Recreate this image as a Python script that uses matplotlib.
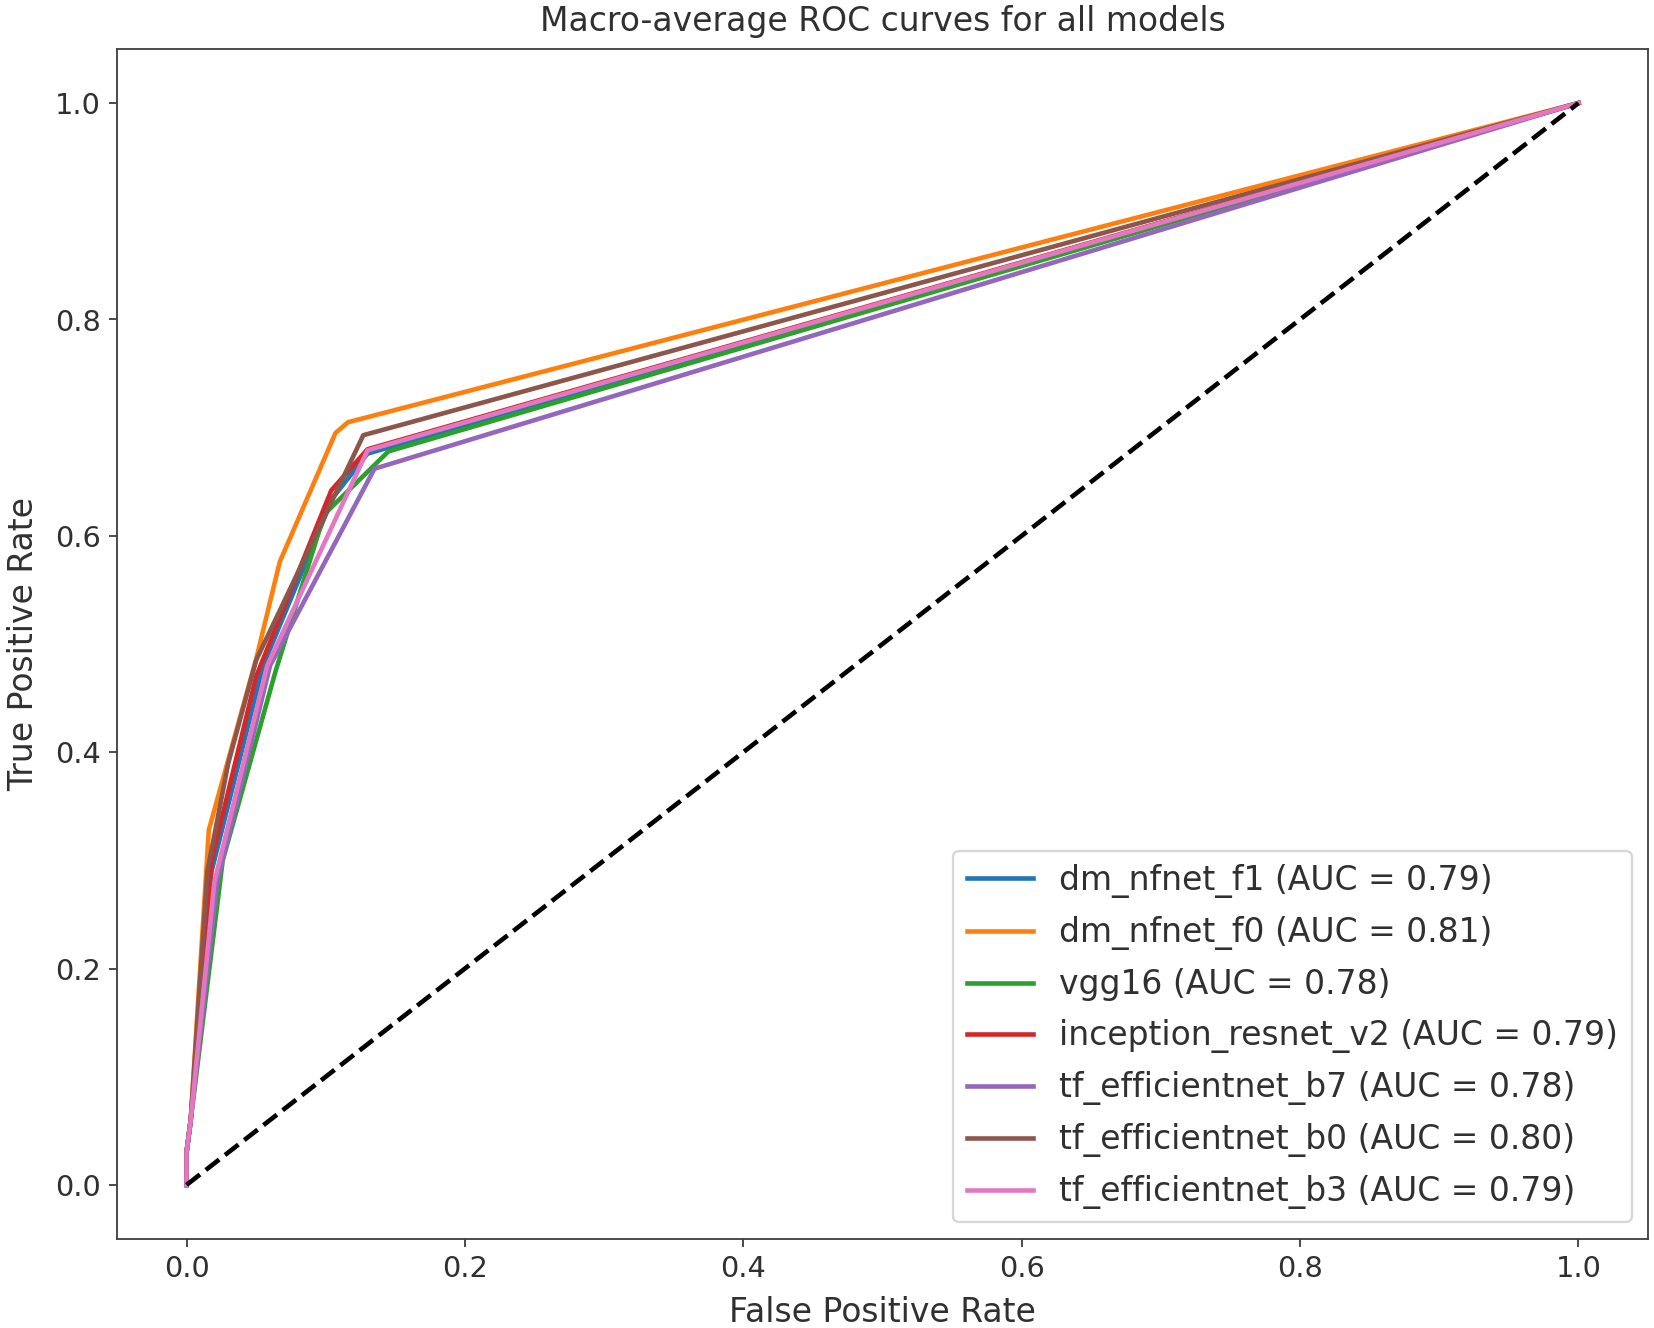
import matplotlib
matplotlib.use("Agg")
import matplotlib.pyplot as plt

models = ["dm_nfnet_f1", "dm_nfnet_f0", "vgg16", "inception_resnet_v2",
          "tf_efficientnet_b7", "tf_efficientnet_b0", "tf_efficientnet_b3"]
aucs = [0.79, 0.81, 0.78, 0.79, 0.78, 0.80, 0.79]

fpr_f1 = [0.0, 0.0, 0.003, 0.018, 0.055, 0.105, 0.130, 1.0]
tpr_f1 = [0.0, 0.03, 0.06, 0.29, 0.48, 0.635, 0.676, 1.0]

fpr_f0 = [0.0, 0.0, 0.003, 0.016, 0.050, 0.067, 0.107, 0.116, 1.0]
tpr_f0 = [0.0, 0.03, 0.06, 0.328, 0.486, 0.576, 0.695, 0.705, 1.0]

fpr_vgg = [0.0, 0.0, 0.003, 0.026, 0.064, 0.099, 0.145, 1.0]
tpr_vgg = [0.0, 0.03, 0.06, 0.30, 0.475, 0.620, 0.678, 1.0]

fpr_inc = [0.0, 0.0, 0.003, 0.018, 0.050, 0.104, 0.130, 1.0]
tpr_inc = [0.0, 0.03, 0.06, 0.30, 0.470, 0.642, 0.680, 1.0]

fpr_b7 = [0.0, 0.0, 0.003, 0.022, 0.060, 0.135, 1.0]
tpr_b7 = [0.0, 0.03, 0.06, 0.28, 0.480, 0.662, 1.0]

fpr_b0 = [0.0, 0.0, 0.003, 0.015, 0.030, 0.050, 0.127, 1.0]
tpr_b0 = [0.0, 0.03, 0.06, 0.29, 0.390, 0.485, 0.693, 1.0]

fpr_b3 = [0.0, 0.0, 0.003, 0.020, 0.058, 0.130, 1.0]
tpr_b3 = [0.0, 0.03, 0.06, 0.28, 0.480, 0.679, 1.0]

fprs = [fpr_f1, fpr_f0, fpr_vgg, fpr_inc, fpr_b7, fpr_b0, fpr_b3]
tprs = [tpr_f1, tpr_f0, tpr_vgg, tpr_inc, tpr_b7, tpr_b0, tpr_b3]

txt = "#303030"
plt.rcParams.update({
    "text.color": txt,
    "axes.labelcolor": txt,
    "xtick.color": "#404040",
    "ytick.color": "#404040",
    "xtick.labelcolor": txt,
    "ytick.labelcolor": txt,
    "axes.edgecolor": "#404040",
})

fig = plt.figure(figsize=(10, 8.03), dpi=165.4)
ax = fig.add_axes([0.0707, 0.067, 0.9257, 0.896])

for name, auc, fx, ty in zip(models, aucs, fprs, tprs):
    ax.plot(fx, ty, lw=2, label=f"{name} (AUC = {auc:.2f})")

ax.plot([0, 1], [0, 1], "k--", lw=2)
ax.set_xlabel("False Positive Rate", fontsize=14.4, labelpad=5.5)
ax.set_ylabel("True Positive Rate", fontsize=14.4, labelpad=6.5)
ax.set_title("Macro-average ROC curves for all models", fontsize=14.4, pad=8)
ax.tick_params(labelsize=12.5)
ax.legend(loc="lower right", fontsize=14.4, labelspacing=0.545)

fig.savefig("out.png", dpi=165.4)
